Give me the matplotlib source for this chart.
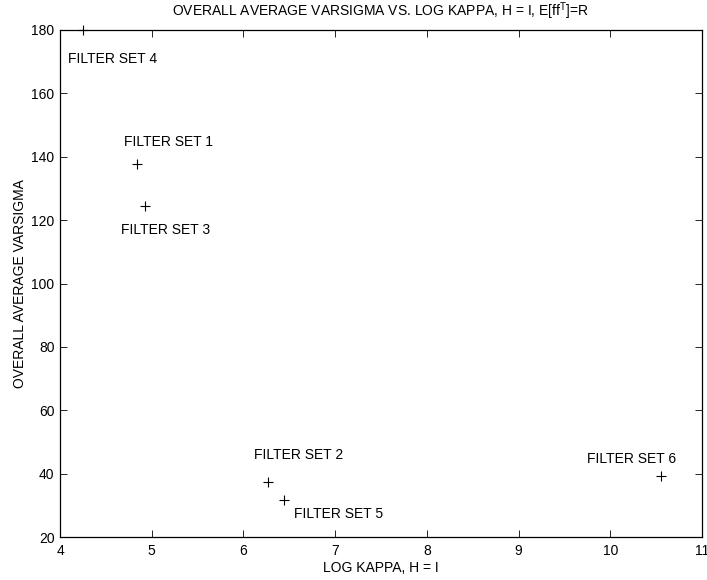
import matplotlib
matplotlib.use('Agg')
import matplotlib.pyplot as plt

plt.rcParams['font.family'] = ['Liberation Sans', 'DejaVu Sans']
plt.rcParams['mathtext.fontset'] = 'custom'
plt.rcParams['mathtext.rm'] = 'Liberation Sans'

# filter sets: log kappa vs overall average varsigma
set_names = ['FILTER SET 1', 'FILTER SET 2', 'FILTER SET 3',
             'FILTER SET 4', 'FILTER SET 5', 'FILTER SET 6']
log_kappa = [4.84, 6.27, 4.93, 4.25, 6.44, 10.55]
varsigma = [137.8, 37.5, 124.3, 180.0, 31.7, 39.4]

# label anchor points (centre of text)
label_x = [5.18, 6.60, 5.15, 4.57, 7.04, 10.23]
label_y = [144.5, 46.0, 116.8, 170.8, 27.4, 44.7]

xticks = [4, 5, 6, 7, 8, 9, 10, 11]
yticks = [20, 40, 60, 80, 100, 120, 140, 160, 180]

fig = plt.figure(figsize=(7.07, 5.8), dpi=100)
ax = fig.add_axes([0.0849, 0.0741, 0.9081, 0.8742])

ax.plot(log_kappa, varsigma, linestyle='none', marker='+', color='black',
        markersize=7, markeredgewidth=0.8, clip_on=False)

for name, lx, ly in zip(set_names, label_x, label_y):
    ax.text(lx, ly, name, ha='center', va='center', fontsize=10, clip_on=False)

ax.set_xlim(4, 11)
ax.set_ylim(20, 180)
ax.set_xticks(xticks)
ax.set_yticks(yticks)
ax.tick_params(direction='in', top=True, right=True, length=5, width=0.6,
               labelsize=10)
ax.tick_params(axis='x', pad=5)
ax.tick_params(axis='y', pad=4)
for sp in ax.spines.values():
    sp.set_linewidth(0.9)

ax.set_xlabel('LOG KAPPA, H = I', fontsize=10, labelpad=2)
ax.set_ylabel('OVERALL AVERAGE VARSIGMA', fontsize=10, labelpad=3)
ax.set_title(r'OVERALL AVERAGE VARSIGMA VS. LOG KAPPA, H = I, E[ff$^\mathregular{T}$]=R',
             fontsize=10, pad=10)

fig.savefig('out.png', dpi=100)
